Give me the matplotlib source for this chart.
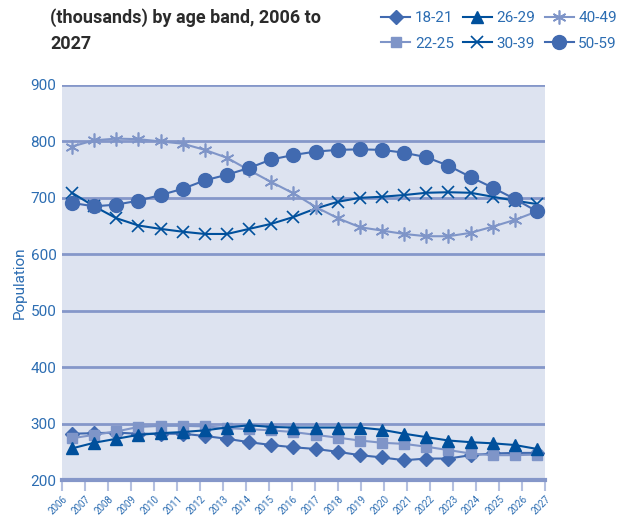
import numpy as np
import matplotlib
matplotlib.use("Agg")
import matplotlib.pyplot as plt

# Data (thousands)
years = list(range(2006, 2028))
tick_labels = [str(y) for y in range(2006, 2028)]

age_18_21 = [282, 283, 284, 282, 282, 282, 278, 273, 267, 262, 258, 255,
             250, 244, 240, 235, 238, 238, 244, 247, 248, 248]
age_22_25 = [274, 280, 286, 294, 296, 296, 295, 292, 290, 288, 285, 280,
             275, 270, 266, 264, 259, 253, 247, 244, 244, 245]
age_26_29 = [256, 266, 273, 280, 283, 285, 288, 293, 297, 294, 293, 293,
             293, 293, 289, 282, 276, 270, 267, 265, 262, 255]
age_30_39 = [709, 685, 664, 651, 645, 640, 636, 636, 645, 654, 666, 681,
             693, 700, 702, 705, 709, 710, 709, 702, 695, 689]
age_40_49 = [791, 802, 805, 804, 800, 796, 785, 771, 749, 728, 708, 684,
             664, 648, 642, 636, 632, 632, 638, 649, 661, 676]
age_50_59 = [691, 685, 688, 695, 705, 716, 731, 741, 753, 768, 776, 782,
             785, 786, 785, 780, 772, 757, 737, 718, 698, 676]

DARK = "#00509C"
MID = "#416AB0"
LIGHT = "#7F95C8"
TXT = "#2C6DB2"
BG = "#DDE3F0"
GRID = "#8597C9"

plt.rcParams["font.family"] = ["Roboto", "DejaVu Sans"]

fig = plt.figure(figsize=(6.39, 5.18), dpi=100)
ax = fig.add_axes([62 / 639, 1 - 480 / 518, (545 - 62) / 639, (480 - 85) / 518])
ax.set_facecolor(BG)

ax.plot(years, age_18_21, color=MID, lw=1.5, marker="D", ms=7, label="18-21")
ax.plot(years, age_22_25, color=LIGHT, lw=1.5, marker="s", ms=7, label="22-25")
ax.plot(years, age_26_29, color=DARK, lw=1.5, marker="^", ms=9, label="26-29")
ax.plot(years, age_30_39, color=DARK, lw=1.5, marker="x", ms=8, mew=1.2, label="30-39")
ax.plot(years, age_40_49, color=LIGHT, lw=1.5, marker=(6, 2, 0), ms=10, mew=1.2, label="40-49")
ax.plot(years, age_50_59, color=MID, lw=1.5, marker="o", ms=10, label="50-59")

# x axis: points sit slightly off the year ticks, as in the original
xmin, xmax = 2005.55, 2027.36
ax.set_xlim(xmin, xmax)
ax.set_xticks(np.linspace(xmin, xmax, len(tick_labels)))
ax.set_xticklabels(tick_labels, rotation=45, ha="right", rotation_mode="anchor",
                   fontsize=7, color=TXT)
ax.tick_params(axis="x", length=8, width=1.5, color="#B4C0E0", pad=2)

ax.set_ylim(200, 900)
ax.set_yticks(range(200, 901, 100))
ax.tick_params(axis="y", length=0, labelsize=11, labelcolor=TXT, pad=4)
ax.grid(axis="y", color=GRID, lw=2)
ax.set_axisbelow(True)

for s in ["top", "right", "left"]:
    ax.spines[s].set_visible(False)
ax.spines["bottom"].set_color(GRID)
ax.spines["bottom"].set_linewidth(3)

ax.set_ylabel("Population", fontsize=11, color=TXT, labelpad=3)

# Title (upper part of it is cut off in the original)
fig.text(50 / 639, 1 - 18 / 518, "(thousands) by age band, 2006 to", fontsize=13,
         fontweight="bold", color="#2B2B2B", va="center")
fig.text(50 / 639, 1 - 44 / 518, "2027", fontsize=13,
         fontweight="bold", color="#2B2B2B", va="center")

leg = fig.legend(loc="center", bbox_to_anchor=(499 / 639, 1 - 31 / 518), ncol=3,
                 frameon=False, fontsize=11, handlelength=1.9, handletextpad=0.3,
                 columnspacing=0.6, labelspacing=0.75, borderpad=0)
for t in leg.get_texts():
    t.set_color(TXT)

fig.savefig("out.png", dpi=100)
